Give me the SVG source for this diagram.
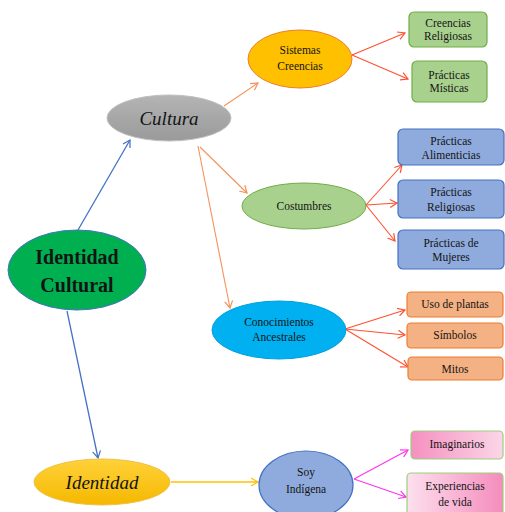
<svg xmlns="http://www.w3.org/2000/svg" width="505" height="512" viewBox="0 0 505 512">
<defs>
  <linearGradient id="gGray" x1="0" y1="0" x2="0" y2="1">
    <stop offset="0" stop-color="#b4b4b4"/><stop offset="1" stop-color="#9a9a9a"/>
  </linearGradient>
  <linearGradient id="gGold" x1="0" y1="0" x2="0" y2="1">
    <stop offset="0" stop-color="#ffd23a"/><stop offset="1" stop-color="#f5b800"/>
  </linearGradient>
  <linearGradient id="gPink" x1="0" y1="0" x2="1" y2="0">
    <stop offset="0" stop-color="#f590c0"/><stop offset="1" stop-color="#fbd6e8"/>
  </linearGradient>
  <linearGradient id="gPink2" x1="0" y1="0" x2="1" y2="0">
    <stop offset="0" stop-color="#fde0ee"/><stop offset="1" stop-color="#f48cbc"/>
  </linearGradient>
  <marker id="aBlue" markerWidth="10" markerHeight="10" refX="8" refY="5" orient="auto" markerUnits="userSpaceOnUse">
    <path d="M1,1 L8,5 L1,9" fill="none" stroke="#4472c4" stroke-width="1.2"/>
  </marker>
  <marker id="aOrange" markerWidth="10" markerHeight="10" refX="8" refY="5" orient="auto" markerUnits="userSpaceOnUse">
    <path d="M1,1 L8,5 L1,9" fill="none" stroke="#f4925a" stroke-width="1.2"/>
  </marker>
  <marker id="aRed" markerWidth="10" markerHeight="10" refX="8" refY="5" orient="auto" markerUnits="userSpaceOnUse">
    <path d="M1,1 L8,5 L1,9" fill="none" stroke="#ff5030" stroke-width="1.2"/>
  </marker>
  <marker id="aMag" markerWidth="10" markerHeight="10" refX="8" refY="5" orient="auto" markerUnits="userSpaceOnUse">
    <path d="M1,1 L8,5 L1,9" fill="none" stroke="#ff33ee" stroke-width="1.2"/>
  </marker>
  <marker id="aGold" markerWidth="10" markerHeight="10" refX="8" refY="5" orient="auto" markerUnits="userSpaceOnUse">
    <path d="M1,1 L8,5 L1,9" fill="none" stroke="#ffc000" stroke-width="1.2"/>
  </marker>
</defs>
<style>
  text { font-family: "Liberation Serif", "Times New Roman", serif; fill: #141414; text-anchor: middle; }
  .sm { font-size: 11.5px; }
  .big { font-size: 19px; font-style: italic; }
  .root { font-size: 20px; font-weight: bold; }
  .blue { stroke: #4472c4; stroke-width: 1.3; fill: none; marker-end: url(#aBlue); }
  .orange { stroke: #f4925a; stroke-width: 1.1; fill: none; marker-end: url(#aOrange); }
  .red { stroke: #ff5030; stroke-width: 1.1; fill: none; marker-end: url(#aRed); }
  .mag { stroke: #ff33ee; stroke-width: 1.1; fill: none; marker-end: url(#aMag); }
  .gold { stroke: #ffc000; stroke-width: 1.3; fill: none; marker-end: url(#aGold); }
  .greenBox { fill: #a9d18e; stroke: #70ad47; stroke-width: 1.2; }
  .blueBox { fill: #8faadc; stroke: #4472c4; stroke-width: 1.2; }
  .peachBox { fill: #f4b183; stroke: #ed7d31; stroke-width: 1.2; }
</style>
<rect width="505" height="512" fill="#ffffff"/>

<g id="connectors">
  <line class="blue" x1="78" y1="230" x2="130" y2="140"/>
  <line class="blue" x1="67" y1="311" x2="98" y2="458"/>
  <line class="orange" x1="224" y1="106" x2="258" y2="83"/>
  <line class="orange" x1="200" y1="147" x2="247" y2="193"/>
  <line class="orange" x1="198" y1="146" x2="230" y2="308"/>
  <line class="red" x1="352" y1="55" x2="405" y2="33"/>
  <line class="red" x1="352" y1="55" x2="408" y2="79"/>
  <line class="red" x1="366" y1="205" x2="402" y2="165"/>
  <line class="red" x1="366" y1="205" x2="397" y2="203"/>
  <line class="red" x1="366" y1="205" x2="395" y2="241"/>
  <line class="red" x1="345" y1="329" x2="405" y2="310"/>
  <line class="red" x1="345" y1="329" x2="405" y2="335"/>
  <line class="red" x1="345" y1="329" x2="408" y2="367"/>
  <line class="gold" x1="171" y1="482" x2="258" y2="482"/>
  <line class="mag" x1="354" y1="479" x2="408" y2="450"/>
  <line class="mag" x1="354" y1="479" x2="406" y2="497"/>
</g>

<g id="identidad-cultural">
  <ellipse cx="77" cy="270" rx="69" ry="40" fill="#00b050" stroke="#4472c4" stroke-width="1"/>
  <text class="root" x="77" y="264">Identidad</text>
  <text class="root" x="77" y="292">Cultural</text>
</g>

<g id="cultura">
  <ellipse cx="169" cy="118" rx="62" ry="23" fill="url(#gGray)" stroke="#bfbfbf" stroke-width="1"/>
  <text class="big" x="169" y="125">Cultura</text>
</g>

<g id="sistemas-creencias">
  <ellipse cx="300" cy="59" rx="52" ry="29" fill="#ffc000" stroke="#ed7d31" stroke-width="1"/>
  <text class="sm" x="300" y="54">Sistemas</text>
  <text class="sm" x="300" y="70">Creencias</text>
</g>

<g id="creencias-religiosas">
  <rect class="greenBox" x="409" y="12" width="78" height="35" rx="5"/>
  <text class="sm" x="448" y="27">Creencias</text>
  <text class="sm" x="448" y="40">Religiosas</text>
</g>

<g id="practicas-misticas">
  <rect class="greenBox" x="412" y="61" width="75" height="41" rx="5"/>
  <text class="sm" x="449" y="79">Prácticas</text>
  <text class="sm" x="449" y="92">Místicas</text>
</g>

<g id="costumbres">
  <ellipse cx="304" cy="206" rx="62" ry="23" fill="#a9d18e" stroke="#70ad47" stroke-width="1"/>
  <text class="sm" x="304" y="210">Costumbres</text>
</g>

<g id="practicas-alimenticias">
  <rect class="blueBox" x="398" y="129" width="106" height="36" rx="5"/>
  <text class="sm" x="451" y="145">Prácticas</text>
  <text class="sm" x="451" y="159">Alimenticias</text>
</g>

<g id="practicas-religiosas">
  <rect class="blueBox" x="398" y="180" width="106" height="38" rx="5"/>
  <text class="sm" x="451" y="196">Prácticas</text>
  <text class="sm" x="451" y="211">Religiosas</text>
</g>

<g id="practicas-mujeres">
  <rect class="blueBox" x="398" y="230" width="106" height="39" rx="5"/>
  <text class="sm" x="451" y="247">Prácticas de</text>
  <text class="sm" x="451" y="261">Mujeres</text>
</g>

<g id="conocimientos-ancestrales">
  <ellipse cx="279" cy="330" rx="67" ry="29" fill="#00b0f0" stroke="#00a0e0" stroke-width="1"/>
  <text class="sm" x="279" y="326">Conocimientos</text>
  <text class="sm" x="279" y="341">Ancestrales</text>
</g>

<g id="uso-plantas">
  <rect class="peachBox" x="407" y="292" width="96" height="25" rx="4"/>
  <text class="sm" x="455" y="308">Uso de plantas</text>
</g>

<g id="simbolos">
  <rect class="peachBox" x="407" y="323" width="96" height="25" rx="4"/>
  <text class="sm" x="455" y="339">Símbolos</text>
</g>

<g id="mitos">
  <rect class="peachBox" x="408" y="357" width="95" height="23" rx="4"/>
  <text class="sm" x="455" y="373">Mitos</text>
</g>

<g id="identidad">
  <ellipse cx="102" cy="482" rx="68" ry="23" fill="url(#gGold)" stroke="#f0c040" stroke-width="1"/>
  <text class="big" x="102" y="489">Identidad</text>
</g>

<g id="soy-indigena">
  <ellipse cx="306" cy="485" rx="47" ry="34" fill="#8faadc" stroke="#4472c4" stroke-width="1.2"/>
  <text class="sm" x="306" y="476">Soy</text>
  <text class="sm" x="306" y="493">Indígena</text>
</g>

<g id="imaginarios">
  <rect x="411" y="431" width="92" height="28" rx="4" fill="url(#gPink)" stroke="#9bcf7e" stroke-width="1.2"/>
  <text class="sm" x="457" y="448">Imaginarios</text>
</g>

<g id="experiencias-vida">
  <rect x="407" y="473" width="96" height="45" rx="4" fill="url(#gPink2)" stroke="#9bcf7e" stroke-width="1.2"/>
  <text class="sm" x="455" y="490">Experiencias</text>
  <text class="sm" x="455" y="506">de vida</text>
</g>
</svg>
